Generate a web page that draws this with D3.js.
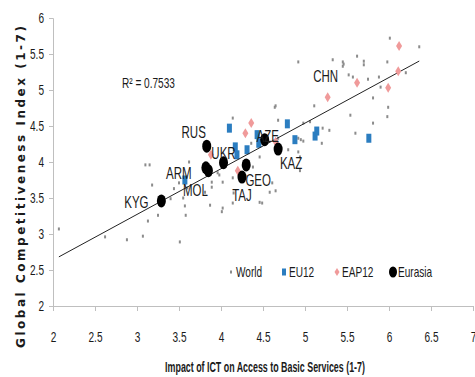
<!DOCTYPE html>
<html><head><meta charset="utf-8">
<script src="https://cdn.jsdelivr.net/npm/d3@7"></script>
<style>
body{margin:0;background:#fff;}
svg text{font-family:'Liberation Sans',Arial,sans-serif;fill:#1a1a1a;}
</style></head>
<body><svg id="c" width="475" height="377"></svg>
<script>
// ---- data ----
const worldX = [2.07,2.62,2.88,3.07,3.51,3.13,3.10,3.15,3.18,3.25,3.40,3.44,3.50,3.60,3.57,3.58,3.62,4.14,4.68,4.65,3.98,3.89,3.89,3.81,3.55,3.87,4.02,4.14,4.58,4.46,4.61,4.46,4.80,4.92,4.92,4.68,4.98,4.95,5.20,4.36,4.56,4.38,4.14,4.02,3.96,4.01,4.49,4.65,4.15,4.92,5.11,4.64,5.06,5.54,5.21,5.29,5.60,4.98,4.94,4.94,5.99,5.98,5.81,5.81,5.90,6.20,5.88,5.75,5.52,5.57,5.98,5.70,5.70,5.62,5.45,5.46,5.45,5.33,6.36,6.01];
const worldY = [3.07,2.96,2.92,2.97,2.89,3.18,3.96,3.96,3.68,3.26,3.49,3.63,3.71,3.64,3.39,3.26,4.00,4.61,4.58,4.78,3.82,3.72,3.65,3.58,3.50,3.40,3.36,3.43,3.58,3.44,3.71,4.07,4.17,4.14,4.33,4.33,4.54,4.31,4.26,4.26,4.31,3.93,3.78,3.72,3.85,3.31,3.43,3.60,3.57,5.39,4.78,4.76,4.56,4.65,4.47,4.44,4.40,4.29,4.07,3.88,4.76,4.63,4.54,4.89,5.04,5.24,5.18,5.15,5.21,5.18,5.39,5.40,5.35,5.47,5.39,5.36,5.33,5.42,5.60,5.72];
const eu12X = [4.10,4.79,4.88,5.14,5.12,5.76,4.17,4.19,4.31,4.43,4.45,3.57];
const eu12Y = [4.47,4.53,4.31,4.43,4.36,4.33,4.21,4.10,4.17,4.38,4.26,3.75];
const eap12X = [6.12,6.11,5.99,5.62,5.27,4.36,4.29,4.20,3.88,4.65];
const eap12Y = [5.61,5.26,5.03,5.10,4.90,4.54,4.40,3.88,4.10,4.28];
const eurasiaNames = ["RUS","ARM","MOL","UKR","GEO","TAJ","AZE","KAZ","KYG"];
const eurasiaX = [3.83,3.82,3.85,4.03,4.30,4.25,4.52,4.68,3.29];
const eurasiaY = [4.22,3.92,3.88,3.99,3.96,3.79,4.31,4.18,3.46];
const trendSlope = 0.634, trendIntercept = 1.37, trendRange = [2.07,6.36];
const rSquared = "R² = 0.7533";
const xTicks = [2,2.5,3,3.5,4,4.5,5,5.5,6,6.5,7];
const yTicks = [2,2.5,3,3.5,4,4.5,5,5.5,6];
const legendNames = ["World","EU12","EAP12","Eurasia"];

// label offsets (px, relative to point)
const labelOff = {RUS:[-13,-14],ARM:[-27,6],MOL:[-13,20],UKR:[0,-9],GEO:[12,15],TAJ:[0,18],AZE:[3,-3],KAZ:[13,14],KYG:[-25,1]};
const SX = 0.72;

const svg = d3.select("#c");
const x = d3.scaleLinear().domain([2,7]).range([53,473]);
const y = d3.scaleLinear().domain([2,6]).range([306,18]);

function narrowText(sel, px, py, size, sx){
  return sel.append("text").attr("transform",`translate(${px},${py}) scale(${sx},1)`)
    .attr("dominant-baseline","central").style("font-size",size+"px");
}

// axes
const yAxis = d3.axisLeft(y).tickValues(yTicks).tickSize(4).tickFormat(d3.format("~g"));
const gy = svg.append("g").attr("transform","translate(53,0)").call(yAxis);
gy.select(".domain").attr("stroke","#bfbfbf");
gy.selectAll(".tick line").attr("stroke","#bfbfbf");
gy.selectAll(".tick text").attr("x",0).attr("transform",`translate(-9,0) scale(${SX},1)`).style("font-size","14px").attr("fill","#1a1a1a");

const xAxis = d3.axisBottom(x).tickValues(xTicks).tickSize(5).tickFormat(d3.format("~g"));
const gx = svg.append("g").attr("transform","translate(0,306)").call(xAxis);
gx.select(".domain").attr("stroke","#bfbfbf");
gx.selectAll(".tick line").attr("stroke","#bfbfbf");
gx.selectAll(".tick text").attr("y",0).attr("dy",0).attr("dominant-baseline","central")
  .attr("transform",`translate(0,31) scale(${SX},1)`).style("font-size","14px").attr("fill","#1a1a1a");

// world
svg.append("g").selectAll("rect").data(worldX.map((v,i)=>[v,worldY[i]])).join("rect")
  .attr("x",d=>x(d[0])-1).attr("y",d=>y(d[1])-1.5).attr("width",2).attr("height",3).attr("fill","#8c8c8c");

// EU12
svg.append("g").selectAll("rect").data(eu12X.map((v,i)=>[v,eu12Y[i]])).join("rect")
  .attr("x",d=>x(d[0])-2.5).attr("y",d=>y(d[1])-4.5).attr("width",5).attr("height",9).attr("fill","#2b7dc0");

// trendline
svg.append("line")
  .attr("x1",x(trendRange[0])).attr("y1",y(trendSlope*trendRange[0]+trendIntercept))
  .attr("x2",x(trendRange[1])).attr("y2",y(trendSlope*trendRange[1]+trendIntercept))
  .attr("stroke","#222").attr("stroke-width",1);

// EAP12
svg.append("g").selectAll("path").data(eap12X.map((v,i)=>[v,eap12Y[i]])).join("path")
  .attr("d",d=>{const cx=x(d[0]),cy=y(d[1]);return `M${cx},${cy-5}L${cx+3},${cy}L${cx},${cy+5}L${cx-3},${cy}Z`;})
  .attr("fill","#f09a9a");

// Eurasia
const eu = eurasiaNames.map((n,i)=>({n,x:eurasiaX[i],y:eurasiaY[i]}));
svg.append("g").selectAll("ellipse").data(eu).join("ellipse")
  .attr("cx",d=>x(d.x)).attr("cy",d=>y(d.y)).attr("rx",4.5).attr("ry",6.5).attr("fill","#000");

const lblG = svg.append("g");
eu.forEach(d=>{
  narrowText(lblG, x(d.x)+labelOff[d.n][0], y(d.y)+labelOff[d.n][1], 16, SX).attr("text-anchor","middle").text(d.n);
});

// CHN label
narrowText(svg, x(eap12X[4])-2, y(eap12Y[4])-21, 16, SX).attr("text-anchor","middle").text("CHN");

// R2
narrowText(svg, 122, 83, 14, SX).text(rSquared);

// legend
const lg = svg.append("g");
const lx = [231,284,337,393];
legendNames.forEach((n,i)=>{
  const cx = lx[i], cy = 272;
  if(i===0) lg.append("rect").attr("x",cx-1).attr("y",cy-1.5).attr("width",2).attr("height",3).attr("fill","#8c8c8c");
  if(i===1) lg.append("rect").attr("x",cx-2).attr("y",cy-3.5).attr("width",4).attr("height",7).attr("fill","#2b7dc0");
  if(i===2) lg.append("path").attr("d",`M${cx},${cy-4}L${cx+2.5},${cy}L${cx},${cy+4}L${cx-2.5},${cy}Z`).attr("fill","#f09a9a");
  if(i===3) lg.append("ellipse").attr("cx",cx).attr("cy",cy).attr("rx",4).attr("ry",5.5).attr("fill","#000");
  narrowText(lg, cx+5, cy, 14, SX).text(n);
});

// axis titles
const xt = svg.append("text").attr("text-anchor","middle").attr("dominant-baseline","central")
  .style("font-size","15px").style("font-weight","bold")
  .text("Impact of ICT on Access to Basic Services (1-7)");
const xtLen = xt.node().getComputedTextLength();
xt.attr("transform",`translate(265,367) scale(${200/xtLen},1)`);

svg.append("text").attr("transform","translate(21,187) rotate(-90)").attr("text-anchor","middle").attr("dominant-baseline","central")
  .style("font-family","'DejaVu Sans',Verdana,sans-serif").style("font-size","12px").style("font-weight","bold")
  .attr("textLength",322).attr("lengthAdjust","spacing")
  .text("Global Competitiveness Index (1-7)");
</script></body></html>
